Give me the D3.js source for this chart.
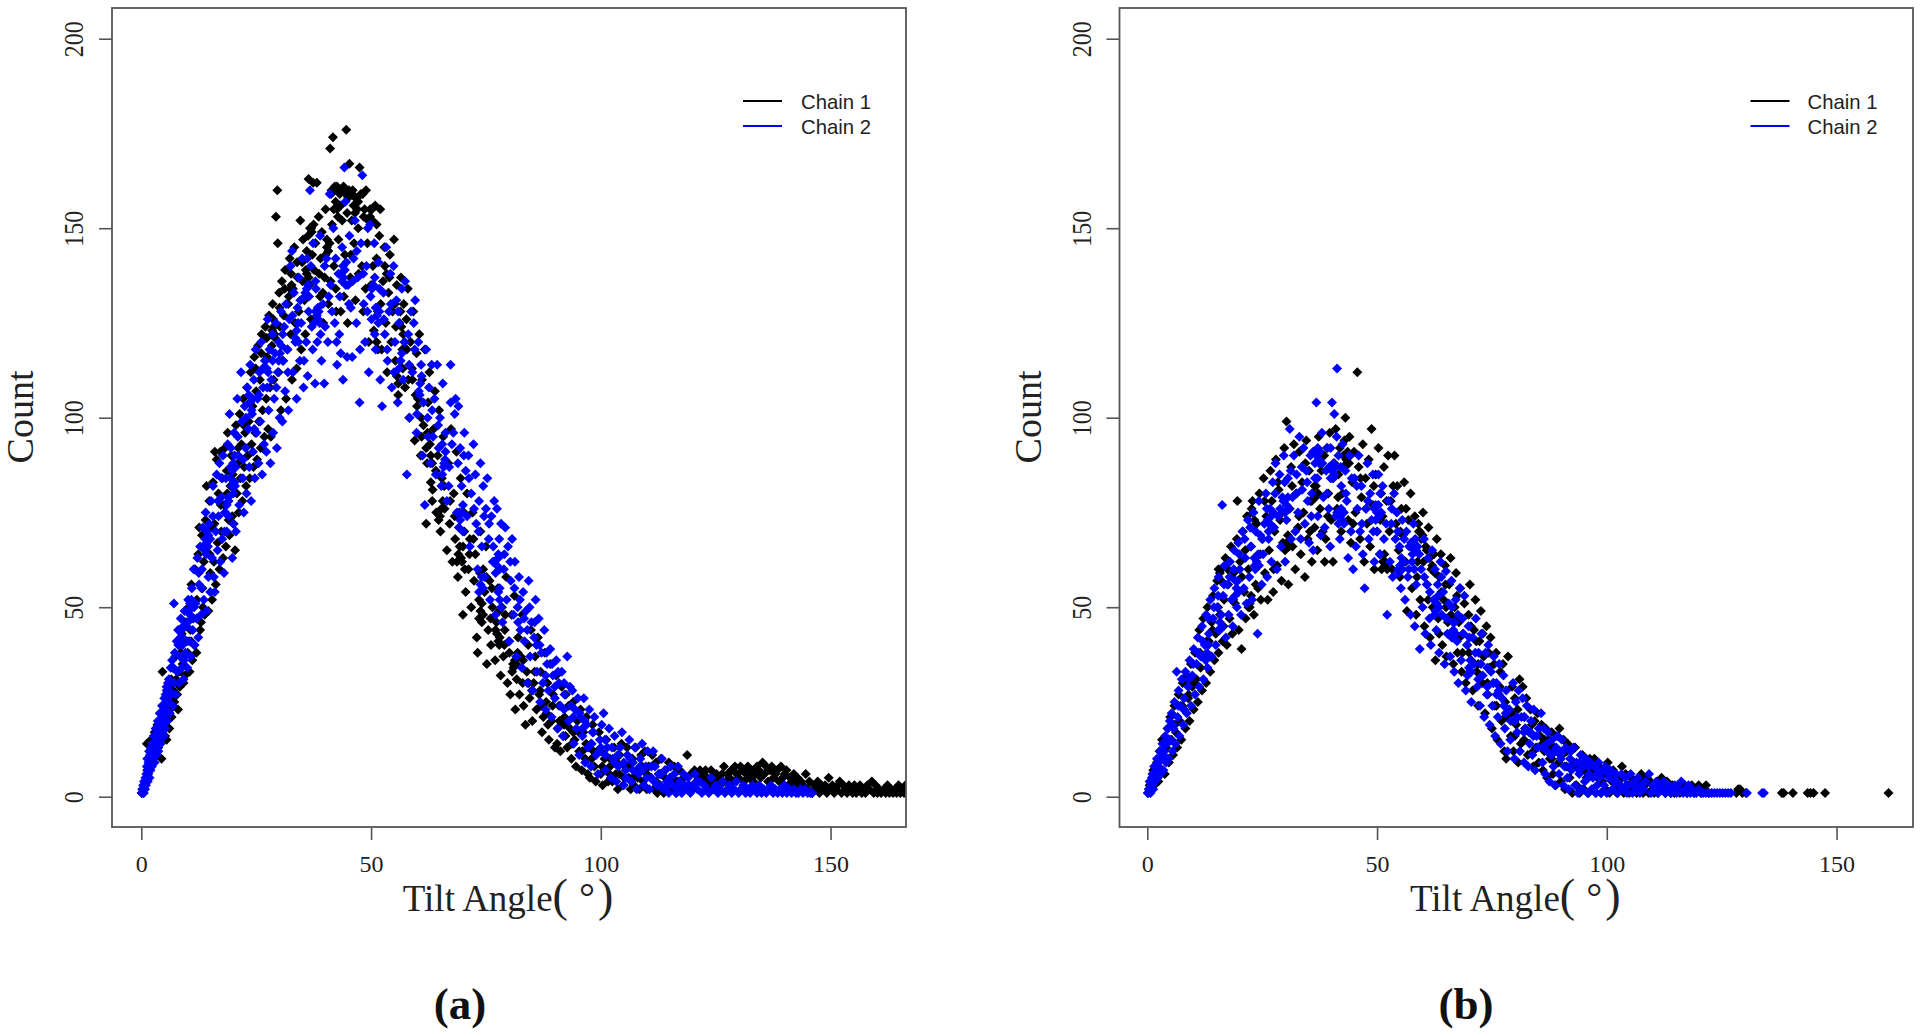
<!DOCTYPE html>
<html>
<head>
  <title></title>
  <style type="text/css">
    body { margin: 0; background: white; }
    svg { display: block; }
  </style>
</head>
<body>
  <div id="my_dataviz"></div>
</body>
<script src="https://d3js.org/d3.v7.min.js"></script>

<script type="text/javascript">

var xTicks = [0, 50, 100, 150];
var yTicks = [0, 50, 100, 150, 200];
var seriesNames = ["Chain 1", "Chain 2"];
var panelLabels = ["(a)", "(b)"];

// points, [tilt angle, count]
var chain1A = [
[0.1,1],[0.3,2],[0.5,1],[0.7,3],[0.9,4],[1.1,5],[1.2,14],[1.3,7],[1.5,6],[1.6,9],[1.8,12],[2,8],[2.1,15],[2.3,11],[2.5,10],[2.7,14],[2.9,17],[3.1,12],[3.3,16],[3.5,19],[3.7,13],[3.9,20],[4.1,15],[4.4,10],[4.6,33],[4.7,18],[4.8,24],[5,22],[5.2,16],[5.4,27],[5.5,15],[5.8,25],[6,29],[6.1,18],[6.3,23],[6.5,31],[6.6,21],[6.8,34],[7,28],[7.2,25],[7.4,37],[7.6,31],[7.8,27],[8,23],[8.1,40],[8.2,33],[8.4,29],[8.6,38],[8.8,43],[9,35],[9.2,30],[9.5,32],[9.7,46],[9.9,41],
[10.1,38],[10.3,50],[10.5,33],[10.7,44],[10.9,56],[11.1,36],[11.3,47],[11.5,40],[11.7,60],[12,38],[12.1,52],[12.4,64],[12.6,71],[12.8,44],[13,46],[13.2,69],[13.4,50],[13.6,62],[13.8,48],[14,73],[14.2,82],[14.4,66],[14.6,49],[14.8,78],[15,59],[15.2,71],[15.4,52],[15.6,83],[15.8,62],[16,91],[16.2,56],[16.4,89],[16.6,67],[16.8,80],[17,60],[17.2,91],[17.4,70],[17.6,84],[17.8,63],[18,77],[18.2,92],[18.4,66],[18.6,86],[18.8,96],[19,73],[19.2,69],[19.4,82],[19.6,90],[19.8,74],
[20.1,72],[20.4,65],[20.6,98],[20.8,80],[21,88],[21.2,75],[21.4,101],[21.6,84],[21.8,93],[22,78],[22.2,105],[22.4,87],[22.6,96],[22.8,82],[23,108],[23.2,90],[23.4,99],[23.6,84],[23.8,112],[24,93],[24.2,103],[24.4,87],[24.6,116],[24.8,96],[25,107],[25.2,89],[25.4,119],[25.6,99],[25.8,110],[26,92],[26.2,122],[26.4,102],[26.6,113],[26.8,95],[27,124],[27.2,105],[27.4,116],[27.6,97],[27.8,127],[28,108],[28.2,95],[28.4,119],[28.6,130],[28.8,110],[29,122],[29.3,153],[29.6,160],[29.7,146],[29.9,112],[30,133],[30.2,124],[30.4,102],[30.6,136],
[30.8,115],[31,127],[31.3,139],[31.5,105],[31.8,118],[32,130],[32.3,142],[32.5,122],[32.8,110],[33,134],[33.3,145],[33.5,125],[33.8,113],[34,137],[34.3,128],[34.6,152],[34.8,118],[35,141],[35.2,147],[35.5,131],[35.7,122],[36,144],[36.4,163],[36.6,135],[36.9,126],[37,150],[37.4,162],[37.6,139],[37.9,146],[38.2,162],[38.4,128],[38.6,153],[38.9,132],[39,142],[39.3,149],[39.6,125],[39.9,137],[40.1,155],[40.4,145],[40.7,130],[41.1,171],[41.3,159],[41.5,151],[41.7,174],[41.9,140],[42.1,161],[42.3,134],[42.6,155],[42.9,147],[43.1,160],[43.4,128],[43.7,152],[44,161],[44.3,143],[44.6,176],[44.9,125],[45,158],[45.3,167],[45.5,137],[45.8,152],[46,160],[46.3,146],[46.6,131],[46.9,158],[47.2,150],[47.5,166],[47.8,159],[48,140],[48.3,128],[48.6,155],[48.9,160],[49.2,146],[49.5,120],[49.8,155],[50,135],[50.3,152],[50.6,123],[50.9,156],[51.2,142],[51.5,128],[51.8,148],[52,155],[52.3,118],[52.6,136],[52.9,145],[53.2,125],[53.5,112],[53.8,133],[54.1,143],[54.4,120],[54.7,128],[55,147],[55.3,115],[55.6,135],[55.9,106],[56.2,125],[56.5,137],[56.8,118],[57.1,130],[57.4,108],[57.7,126],[58,134],[58.3,100],[58.6,120],[58.9,113],[59.2,128],[59.5,94],
[59.9,117],[60.2,105],[60.5,122],[60.8,90],[61.1,110],[61.4,98],[61.7,118],[62,72],[62.2,88],[62.4,104],[62.7,112],[63,83],[63.3,78],[63.4,81],[63.6,97],[63.9,107],[64.2,75],[64.5,90],[64.8,102],[65.1,70],[65.4,84],[65.7,95],[66,76],[66.5,65],[66.8,88],[67.1,72],[67.4,97],[67.7,62],[68,80],[68.3,68],[68.6,91],[68.9,58],[69.2,75],[69.5,84],[69.8,62],[70,48],[70.3,70],[70.6,54],[70.9,80],[71.2,60],[71.5,68],[71.8,50],[72.1,75],[72.4,57],[72.7,64],[73,42],[73.2,38],[73.5,52],[73.8,70],[74.1,46],[74.4,60],[74.7,54],[75,66],[75.2,35],[75.5,44],[75.8,57],[76.1,40],[76.4,50],[76.7,62],[77,36],[77.3,46],[77.6,55],[77.9,40],[78.2,32],[78.5,50],[78.8,37],[79.1,44],[79.4,58],[79.7,30],[80,41],[80.3,27],[80.6,48],[80.9,35],[81.2,53],[81.4,23],[81.7,31],[82,42],[82.3,27],[82.6,37],[82.9,48],[83.2,24],[83.6,19],[83.9,33],[84.2,40],[84.5,26],[84.8,44],[85.1,20],[85.4,30],[85.7,37],[86,23],[86.3,42],[86.6,27],[86.9,33],[87.2,17],[87.5,21],[87.8,38],[88.1,25],[88.4,30],[88.7,15],[89,35],[89.3,20],[89.6,27],[90,13],[90.3,32],[90.6,18],[90.9,24],[91.2,12],[91.5,29],[91.8,16],[92.1,21],[92.4,27],[92.7,13],[93,24],[93.3,18],[93.6,10],[94,25],[94.3,15],[94.6,8],[94.9,20],[95.3,12],[95.6,23],[95.9,7],[96.2,17],[96.6,10],[96.9,21],[97.2,6],[97.6,5],[97.9,14],[98.2,19],[98.6,8],[98.9,4],[99.2,12],[99.6,17],[100,6],
[100.4,3],[100.8,10],[101.2,15],[101.6,4],[102,8],[102.5,4],[102.9,13],[103.3,6],[103.7,2],[104.1,11],[104.5,14],[104.9,3],[105.3,8],[105.7,13],[106.1,5],[106.5,2],[106.9,10],[107.2,3],[107.6,13],[108,7],[108.4,2],[108.8,11],[109.2,4],[109.6,12],[110,2],[110.4,8],[110.8,5],[111.2,11],[111.6,2],[112,9],[112.3,1],[112.7,6],[113.1,10],[113.7,1],[114,7],[114.4,3],[114.8,9],[115.2,2],[115.6,5],[116,8],[116.4,1],[116.8,4],[117.2,7],[117.6,2],[118,5],
[118.8,11],[119.2,3],[119.6,6],[120,2],[120.4,7],[120.8,4],[121.2,5],[121.6,7],[122,6],[122.4,4],[122.8,7],[123.2,5],[123.6,3],[124,7],[124.4,5],[124.8,4],[125.2,6],[125.6,5],[126,3],[126.4,6],[126.8,8],[127.2,4],[127.6,6],[128,5],[128.4,7],[128.8,4],[129.2,8],[129.6,6],[130,5],[130.4,8],[130.8,7],[131.2,4],[131.6,6],[132,8],[132.4,5],[132.8,7],[133.2,4],[133.6,6],[134,8],[134.4,7],[134.8,5],[135.2,9],[135.6,6],[136,8],[136.4,4],[136.8,7],[137.2,8],[137.6,5],[138,6],[138.4,7],[138.8,4],[139.2,8],[139.6,5],[140,6],[140.4,7],[140.8,3],[141.2,5],[141.6,4],[142,6],[142.4,3],[142.8,5],[143.2,2],[143.6,4],[144,3],[144.6,6],[145,2],[145.4,4],[146,1],[146.4,3],[146.8,2],[147.2,4],[147.6,1],[148,3],[148.4,2],[148.8,3],[149.2,1],[149.6,5],[150,2],[150.4,3],[150.8,1],[151.2,2],[151.6,3],[152,4],[152.4,1],[152.8,3],[153.2,2],[153.6,1],[154,3],[154.4,2],[154.8,1],[155.2,3],[155.6,1],[156,2],[156.4,3],[156.8,1],[157.2,2],[157.6,1],[158,3],[158.4,2],[159,4],[159.4,1],[159.8,3],[160.2,1],[160.6,2],[161,1],[161.6,2],[162,1],[162.4,3],[162.8,1],[163.2,2],[163.6,1],[164,2],[164.4,1],[164.8,3],[165.2,1],[165.6,2],[166,1],[166.3,3],
// denser clumps on the peak and the falling side
[36.7,150],[37.1,149],[36.3,148],[37.5,151],[40.4,147],[40.7,144],[40.1,143],[41,146],[36,138],[36.4,137],[35.8,139],[32.4,134],[32.7,135],[32.1,132],[28.8,124],[29.1,121],[28.5,123],[41.4,160],[42,160],[42.6,161],[43.2,159],[43.8,160],[44.5,159],[45.2,160],[45.9,159],[46.6,158],[47.2,157],[48.2,159],[46.2,156],[46.5,154],[47,155],[49.8,153],[50.2,155],[49.4,152],[41.9,155],[42.3,157],[42.8,153],[43.4,156],[44.8,154],[48.4,153],[51.2,151],[57,122],[57.3,120],[56.6,124],[51.2,120],[51.5,118],[55.6,111],[55.9,109],[53,140],[54,137],[55.2,130],[56.4,128],[57.8,118],[59,110],[60,103],[61,95],[62,92],[63,90],[63.3,88],[62.8,93],[65,74],[65.3,76],[64.7,73],[65.6,78],[69,64],[69.3,66],[68.7,62],[69.6,63],[70,66],[70.4,60],[73.8,49],[74.1,51],[73.5,47],[74.4,48],[77.4,43],[77.7,41],[77.1,44],[78,42],[81,34],[81.3,36],[80.7,33],[81.6,35],[76,47],[79,40],[83,30],[85,28],[87,24],[88.5,19],[90.5,14],[92,19],[94,17],[96,12],[98,10],[100,12],[102,10],[104,6],[106,8],[108,5],[110,6],[112,4],[114,5],[116,3],
[6.9,26],[7.9,30],[9.4,37],[10.8,41],[12.2,47],[13.3,55],[14.9,64],[15.9,72],[17.3,77],[18.7,80],[19.9,85],[21.1,92],[22.3,98],[23.7,104],[24.9,113],[26.1,117],[27.3,121],[28.7,126],[30.1,129],[31.2,134],[32.6,138],[33.9,141],[35.1,136],[37.2,143],[38.7,138],[39.5,133],[41.2,136],[42.4,128],[44.1,132],[45.6,143],[47.3,138],[48.8,134],[50.4,140],[52.1,130],[53.4,138],[55.4,124],[56.9,113],[58.1,110],[59.7,106],[60.9,100],[62.3,96],[64.1,86],[65.9,82],[67.2,78],[68.2,74],[70.2,75],[71.4,64],[72.3,68],[73.7,59],[75.1,58],[76.3,55],[77.8,49],[79.2,48],[80.1,38],[81.9,38],[83.1,36],[84.3,30],[85.6,33],[86.8,28],[88.2,22],[89.5,24],[91,20],[92.3,16],[93.7,14],[95.2,17],[96.8,14],[98.4,12],[100.3,8],[101.9,6],[103.5,9],[105.1,5],[107,5],[109,8]
];

var chain2A = [
[0.1,1],[0.2,2],[0.4,3],[0.5,1],[0.6,4],[0.8,2],[0.9,5],[1,3],[1.1,6],[1.2,8],[1.4,4],[1.5,7],[1.6,9],[1.8,5],[1.9,10],[2,7],[2.2,12],[2.3,8],[2.4,14],[2.6,10],[2.7,16],[2.9,9],[3,13],[3.1,18],[3.3,11],[3.4,15],[3.6,20],[3.7,12],[3.9,17],[4,22],[4.2,14],[4.4,19],[4.5,24],[4.7,16],[4.8,21],[5,26],[5.2,18],[5.4,23],[5.5,28],[5.7,20],[5.9,25],[6,31],[6.2,22],[6.4,34],[6.5,27],[6.7,36],[6.9,24],[7.1,51],[7.2,30],[7.3,38],[7.5,27],[7.7,41],[7.8,33],[8,44],[8.2,30],[8.4,37],[8.6,47],[8.8,34],[9,42],[9.2,31],[9.4,49],[9.6,38],[9.8,45],[10,34],
[10.2,52],[10.4,41],[10.6,48],[10.8,37],[11,55],[11.2,44],[11.4,60],[11.6,40],[11.8,51],[12,47],[12.2,63],[12.4,42],[12.6,56],[12.8,66],[13,48],[13.2,60],[13.4,71],[13.6,52],[13.8,65],[14,75],[14.2,49],[14.4,68],[14.6,58],[14.8,72],[15,54],[15.2,78],[15.4,63],[15.6,82],[15.8,58],[16,54],[16.2,70],[16.4,85],[16.6,65],[16.8,74],[17,88],[17.2,62],[17.4,79],[17.6,68],[17.8,90],[18,59],[18.2,75],[18.4,84],[18.6,70],[18.8,93],[19,78],[19.2,101],[19.4,87],[19.8,63],[20,72],
[20.2,96],[20.4,82],[20.6,70],[20.9,105],[21.1,90],[21.3,77],[21.7,112],[21.9,99],[22.1,84],[22.3,75],[22.5,103],[22.7,92],[22.9,80],[23.1,108],[23.3,97],[23.5,87],[23.7,114],[23.9,78],[24.1,101],[24.3,91],[24.5,110],[24.7,84],[24.9,118],[25.1,96],[25.3,105],[25.5,88],[25.7,112],[25.9,99],[26.1,120],[26.3,85],[26.5,108],[26.7,93],[26.9,115],[27.2,91],[27.5,126],[27.7,102],[27.9,118],[28.1,88],[28.3,110],[28.5,122],[28.7,96],[28.9,105],[29.1,117],[29.3,125],[29.5,92],[29.7,112],[29.9,120],[30.1,100],[30.4,128],[30.7,99],[30.9,115],[31.1,124],[31.3,107],[31.5,130],[31.8,118],[32,102],[32.2,126],[32.5,140],[32.8,144],[33,112],[33.2,133],[33.5,120],[33.8,105],[34,129],[34.3,137],[34.5,115],[34.8,125],[35,142],[35.3,108],[35.6,132],[35.9,120],[36.2,111],[36.4,128],[36.7,160],[36.9,140],[37.1,124],[37.4,146],[37.8,109],[38,134],[38.3,120],[38.6,128],[38.9,148],[39.2,115],[39.5,130],[39.8,109],[40,124],[40.3,142],[40.6,120],[41,159],[41.2,135],[41.5,128],[41.8,150],[42.1,125],[42.6,114],[42.9,138],[43.1,122],[43.4,117],[43.7,145],[43.9,110],[44.2,166],[44.4,157],[44.8,116],[45,135],[45.3,148],[45.6,129],[45.9,116],[46.2,142],[46.5,152],[46.8,125],[47.1,137],[47.5,104],[47.8,146],[48.1,164],[48.4,130],[48.7,120],[49,140],[49.3,150],[49.5,112],[49.8,151],[50.1,126],[50.4,135],[50.7,146],[51,118],[51.3,129],[51.6,141],[52,110],[52.4,103],[52.7,133],[53,122],[53.3,145],[53.6,115],[53.9,128],[54.2,138],[54.5,108],[54.9,140],[55.2,120],[55.5,131],[55.8,104],[56.1,125],[56.4,115],[56.7,134],[57,110],[57.4,136],[57.8,85],[58.1,122],[58.4,100],[58.7,128],[59,112],[59.3,125],[59.6,131],[59.9,96],[60.3,120],[60.6,106],[60.9,114],[61.2,90],[61.7,77],[62,118],[62.3,100],[62.6,108],[62.9,88],[63.2,114],[63.5,95],[63.8,105],[64.1,85],[64.4,114],[64.7,92],[65,100],[65.3,82],[65.6,109],[65.9,88],[66.2,96],[66.5,78],[67.3,114],[67.3,104],[67,87],[67.6,93],
[68.2,101],[68.4,105],[68.7,75],[69,103],[69.4,92],[69.7,82],[70,70],[70.3,96],[70.6,86],[70.9,74],[71.2,90],[71.5,66],[71.8,80],[72.3,93],[72.7,85],[72.9,72],[73.2,60],[73.5,78],[73.8,88],[74.1,66],[74.4,82],[74.7,58],[75,76],[75.3,84],[75.6,68],[75.9,52],[76.2,74],[76.5,62],[76.8,78],[77.1,48],[77.4,76],[77.7,64],[78,55],[78.3,72],[78.6,46],[78.9,60],[79.2,71],[79.5,52],[79.8,66],[80.1,41],[80.4,57],[80.7,68],[81,48],[81.3,62],[81.6,37],[81.9,50],[82.2,58],[82.5,44],[82.8,34],[83.1,54],[83.4,41],[83.7,49],[84,30],[84.3,57],[84.6,37],[84.9,46],[85.2,28],[85.5,42],[85.8,52],[86.1,33],[86.5,47],[86.8,25],[87.1,38],[87.4,30],[87.7,44],[88,23],[88.3,35],[88.6,28],[89,39],[89.3,21],[89.6,32],[90,26],[90.3,36],[90.6,18],[90.9,30],[91.2,24],[91.5,33],[91.8,16],[92.1,27],[92.7,37],[93,20],[93.3,29],[93.8,28],[94.1,14],[94.4,23],[94.7,18],[95,26],[95.3,11],[95.6,21],[96,16],[96.3,26],[96.6,9],[96.9,19],[97.2,13],[97.5,23],[97.9,8],[98.2,17],[98.6,21],[99,11],[99.4,6],[99.8,15],
[100.2,19],[100.6,22],[101,7],[101.4,13],[101.8,18],[102.2,5],[102.6,10],[103,16],[103.4,4],[103.8,8],[104.2,13],[104.6,17],[105,3],[105.4,7],[105.8,11],[106.2,15],[106.6,4],[107,9],[107.4,13],[107.8,2],[108.2,6],[108.6,10],[109,14],[109.4,3],[109.8,8],[110.2,12],[110.6,2],[111,5],[111.4,12],[111.8,8],[112.2,3],[112.6,6],[113.3,10],[113.6,2],[114,7],[114.4,4],[114.8,1],[115.2,8],[115.6,3],[116,6],[116.4,1],[116.8,8],[117.2,4],[117.6,1],[118,6],[118.5,2],[119,5],[119.5,1],[120,3],[120.5,6],[121,2],[121.5,4],[122,1],[122.5,3],[123,2],[123.5,1],[124,5],[124.5,2],[125,3],[125.5,1],[126,2],[126.5,4],[127,1],[127.5,2],[128,3],[128.5,1],[129,2],[129.5,4],[130,1],[130.5,2],[131,3],[131.5,1],[132,2],[132.5,1],[133,3],[133.5,2],[134,1],[134.5,3],[135,1],[135.5,2],[136,1],[136.5,2],[137,3],[137.5,1],[138,2],[138.5,1],[139,2],[139.5,1],[140,3],[140.5,1],[141,2],[141.5,1],[142,2],[142.5,1],[143,1],[143.5,2],[144,1],[144.5,2],[145,1],[145.6,1],[146,1],
// denser clumps along the band
[1.9,11],[2.1,13],[1.7,12],[2.5,13],[4.8,18],[5,16],[4.5,17],[5.2,20],[5.5,29],[5.8,30],[5.3,27],[6.1,28],[8.8,44],[9.1,45],[8.5,42],[9,40],[10.6,51],[10.9,52],[10.3,49],[11,47],[14.2,67],[14.5,66],[13.9,68],[14.1,64],[14.6,69],[13.7,66],[14.3,70],[18.6,77],[18.9,79],[18.3,75],[19,74],[19.7,82],[20,80],[19.4,84],[20.3,83],[20,88],[20.3,90],[19.7,86],[20.6,87],[23.7,104],[24,102],[23.4,106],[24.2,105],[27.3,113],[27.6,112],[27,115],[30.2,117],[30.5,119],[29.9,115],[33.8,123],[34.1,125],[33.5,121],[34.2,120],[38.2,127],[38.5,126],[37.9,128],[38.8,125],[38.4,129],[37.6,125],[36,134],[36.3,135],[35.7,133],[36.5,132],[44,137],[44.3,139],[43.7,136],[44.5,135],[43.9,140],[44.6,141],[43.4,138],[51.3,127],[51.6,125],[51,129],[51.8,128],[50.5,135],[50.8,137],[50.2,134],[49.9,132],[56.4,115],[56.7,117],[56.1,113],[60.7,109],[61,111],[60.4,107],[65.8,87],[66.1,89],[65.5,85],[66.2,91],[69.4,73],[69.7,75],[69.1,71],[70,77],[77.4,61],[77.7,63],[77.1,59],[78,60],[73.8,56],[74.1,58],[73.5,54],[74.4,55],[78,52],[78.3,50],[77.7,54],[82,46],[84,44],[86,40],[88,32],[90,29],[92,23],[94,21],[96,18],[98,14],[100,13],[101,11],[103,9],[105,9],[107,7],[109,7],[111,8],[113,6],[115,5],[117,3],[119,3],[121,4],
[1.3,10],[2.8,14],[3.8,19],[4.9,23],[6.3,30],[7,34],[8.1,40],[9.3,36],[10.1,46],[11.5,50],[12.5,59],[13.1,55],[15,68],[15.6,74],[16.7,78],[17.5,84],[18.1,70],[19.5,92],[21,95],[22.2,89],[22.8,100],[24.6,97],[25.6,106],[26.4,113],[27.4,108],[28.6,115],[29.4,108],[30.8,122],[31.9,112],[32.9,127],[34.6,131],[35.4,115],[36.1,142],[37.3,118],[37.9,136],[39,122],[39.9,140],[40.8,132],[42.3,142],[42.5,120],[43.2,132],[45.2,130],[46,136],[46.9,144],[47.6,118],[48.3,138],[49.2,128],[50.8,122],[51.8,134],[52.8,126],[53.5,118],[54.3,130],[55,112],[55.9,128],[57.3,120],[58.3,114],[59.5,118],[60,101],[61.4,104],[62.4,95],[63.3,102],[64.6,98],[65.5,93],[66.9,82],[67.9,96],[68.9,88],[70.2,90],[71.3,84],[72.4,76],[73.4,70],[74.6,74],[75.7,72],[76.6,66],[77.9,68],[79,64],[80.3,62],[81.2,55],[82.4,52],[83.3,47],[84.5,50],[85.6,46],[86.7,40],[88.2,38],[89.4,35],[90.7,33],[92,30],[93.5,24],[95.4,22],[96.5,20],[98.4,17],[99.6,12],[100.9,15],[102.4,13],[103.7,11],[105.5,5],[106.4,10],[108.5,8],[110,5],[111.6,4],[113,3],[114.6,3],[116.6,2],[118.3,3]
];

var chain1B = [
[0.2,1],[0.5,3],[0.8,2],[1.1,5],[1.3,7],[1.5,3],[1.8,6],[2.1,9],[2.4,4],[2.7,12],[3,7],[3.2,15],[3.5,10],[3.8,6],[4.1,13],[4.4,18],[4.7,9],[5,21],[5.3,15],[5.6,11],[5.9,24],[6.2,17],[6.5,13],[6.8,27],[7.1,20],[7.4,15],[7.7,30],[8,23],[8.3,18],[8.6,32],[8.9,26],[9.2,20],[9.5,35],[9.8,29],[10.1,23],[10.4,38],[10.7,31],[11,25],[11.3,44],[11.6,34],[11.9,28],[12.2,47],[12.5,37],[12.8,30],[13.1,50],[13.4,41],[13.7,33],[14,46],[14.3,53],[14.6,36],[14.9,43],[15.2,57],[15.5,38],[15.8,48],[16.1,60],[16.4,41],[16.7,52],[17,63],[17.3,40],[17.6,56],[17.9,47],[18.2,66],[18.5,43],[18.8,59],[19.1,51],[19.6,78],[19.9,44],[20.2,62],[20.5,39],[20.8,70],[21.1,54],[21.4,47],[21.7,74],[22,60],[22.3,50],[22.6,66],[22.9,78],[23.2,48],[23.5,63],[23.8,72],[24.1,55],[24.4,80],[24.7,52],[25,68],[25.3,84],[25.6,59],[25.9,74],[26.2,52],[26.5,65],[26.8,86],[27.1,78],[27.4,54],[27.7,70],[28,89],[28.3,61],[28.6,81],[28.9,73],[29.2,57],[29.5,67],[29.8,92],[30.3,99],[30.7,56],[31,76],[31.3,87],[31.6,66],[31.9,93],[32.2,60],[32.5,80],[32.8,71],[33.1,91],[33.4,64],[33.7,83],[34,75],[34.3,58],[34.6,94],[34.9,68],[35.2,86],[35.5,78],[35.8,62],[36.1,91],[36.4,71],[36.7,82],[37,65],[37.3,95],[37.6,76],[37.9,86],[38.2,70],[38.6,62],[38.8,68],[39.1,92],[39.4,80],[39.7,96],[40,73],[40.4,62],[40.7,88],[41,97],[41.3,76],[41.6,85],[41.9,92],[42.2,70],[42.5,80],[43.1,100],[43.4,88],[43.7,73],[44,95],[44.3,67],[44.6,83],[45,91],[45.3,75],[45.7,112],[46,87],[46.3,68],[46.6,79],[46.9,93],[47.2,62],[47.5,84],[47.8,72],[48.2,89],[48.5,66],[48.8,97],[49.1,77],[49.4,60],[49.7,85],[50,70],[50.3,92],[50.6,64],[50.9,80],[51.2,74],[51.5,87],[51.8,62],[52.4,90],[52.7,70],[53,78],[53.3,60],[53.8,90],[54.1,72],[54.4,82],[54.7,65],[55,58],[55.3,76],[55.6,69],[55.9,83],[56.2,62],[56.5,49],[56.8,73],[57.3,80],[57.6,55],[57.9,67],[58.2,74],[58.5,48],[58.8,62],[59.1,70],[59.4,52],[60,75],[60.3,45],[60.6,66],[60.9,56],[61.2,71],[61.5,42],[61.8,60],[62.1,50],[62.7,36],[63,68],[63.3,47],[63.6,58],[63.9,64],[64.2,40],[64.5,52],[64.8,61],[65.1,37],[65.4,46],[65.7,56],[66,63],[66.3,42],[66.6,35],[66.9,50],[67.2,59],[67.5,38],[67.8,46],[68.1,55],[68.4,33],[68.7,43],[69,51],[69.3,30],[69.6,40],[69.9,48],[70.2,56],[70.5,36],[70.8,28],[71.1,44],[71.4,52],[71.7,33],[72,24],[72.3,41],[72.6,49],[72.9,30],[73.2,37],[73.5,22],[73.8,45],[74.1,27],[74.4,34],[74.7,42],[75,18],[75.3,30],[75.6,24],[75.9,38],[76.2,15],[76.5,27],[76.8,33],[77.1,20],[77.4,35],[77.7,12],[78.1,10],[78.5,37],[78.8,23],[79.1,16],[79.4,29],[79.7,12],[80,26],[80.3,19],[80.7,9],[81,31],[81.3,14],[81.7,29],[82,21],[82.5,26],[82.8,11],[83.1,17],[83.4,23],[84,8],[84.3,20],[84.6,13],[84.9,22],[85.2,9],[85.5,16],[85.8,19],[86.1,7],[86.4,12],[86.7,18],[87,5],[87.3,15],[87.6,10],[88,17],[88.3,6],[88.6,13],[88.9,3],[89.2,16],[89.7,18],[90,4],[90.3,11],[90.6,15],[90.9,2],[91.2,8],[91.5,14],[91.9,5],[92.2,12],[92.5,1],[92.8,9],[93.1,13],[93.4,3],[94.1,1],[94.4,7],[94.7,11],[95,2],[95.3,9],[95.6,5],[96,1],[96.3,10],[96.6,7],[97,2],[97.3,10],[97.6,1],[98,5],[98.3,8],[98.7,1],[99,4],[99.4,7],[99.8,2],[100.2,9],[100.6,1],[101,5],[101.4,7],[101.8,2],[102.2,1],[102.6,4],[103.3,8],[103.7,1],[104.1,6],[104.5,3],[104.9,1],[105.3,5],[105.7,2],[106.1,4],[106.5,1],[106.9,3],[107.5,6],[107.9,1],[108.3,3],[108.7,5],[109.1,1],[109.5,4],[109.9,2],[110.3,1],[110.7,3],[111.1,1],[111.9,5],[112.3,2],[112.7,1],[113.1,4],[113.5,2],[113.9,1],[114.3,3],[114.7,1],[115.1,2],[115.5,3],[115.9,1],[116.5,2],[117,3],[117.5,1],[118,2],[118.5,3],[119,1],[119.5,2],[120,3],[120.5,1],[121,2],[121.6,3],[122.2,1],[128.2,1],[128.6,2],[129,2],[129.5,1],[130.3,1],[138.1,1],[138.5,1],[140.5,1],[143.7,1],[144.3,1],[145,1],[147.5,1],[161.3,1],
// denser clumps
[43.3,89],[43.6,91],[43,87],[43.9,88],[44.2,90],[42.7,90],[36.1,80],[36.4,82],[35.8,78],[36.6,79],[30.3,67],[30.6,69],[30,65],[30.8,66],[23,75],[23.3,73],[22.7,76],[15.8,59],[16.1,57],[15.5,60],[59.3,70],[59.6,68],[59,72],[59.9,69],[51.3,62],[51.6,64],[51,60],[51.8,61],[52.2,60],[22.3,51],[22.6,53],[22,50],[60.8,65],[61.4,63],[62,61],[62.6,59],[64,54],[65,50],[67,47],[68,42],[70,38],[72,35],[74,30],[76,24],[78,21],[80,16],[82,15],[84,12],[86,14],[88,10],
[6,19],[7.6,24],[9,27],[10.2,30],[11.5,38],[12.9,41],[14.2,44],[15.4,50],[16.6,45],[17.5,60],[18.7,52],[19.5,68],[20.6,58],[21.3,65],[22.5,71],[23.6,56],[24.6,64],[25.5,78],[26.6,72],[27.5,60],[28.4,83],[29.4,75],[31.5,82],[33,74],[34.4,88],[35.4,70],[37.2,80],[38.5,90],[39.3,74],[40.3,84],[41.5,79],[42.9,94],[44.8,72],[46.4,84],[47.6,76],[49.3,82],[50.7,73],[52.1,78],[53.5,82],[55.1,70],[56.3,76],[57.4,66],[58.7,58],[60.1,62],[61.1,52],[62.4,64],[63.5,43],[64.9,56],[66.1,48],[67.4,53],[68.6,38],[70.4,45],[71.6,41],[73,43],[74.3,38],[75.5,35],[76.7,29],[77.9,25],[79.3,22],[80.6,23],[82.2,18],[83.7,19],[85.3,18],[86.5,15],[88.1,13],[89.5,9],[91.3,12],[93,8],[95.1,7],[97.1,6],[99.1,6],[101.1,4],[103,5],[105,3],[107.7,4],[110.1,2]
];

var chain2B = [
[0.1,1],[0.3,2],[0.5,4],[0.7,1],[0.9,3],[1.1,6],[1.3,2],[1.5,8],[1.7,4],[1.9,6],[2.1,10],[2.3,5],[2.5,8],[2.7,12],[2.9,6],[3.1,10],[3.3,14],[3.5,7],[3.7,12],[3.9,16],[4.1,9],[4.3,14],[4.5,18],[4.7,10],[4.9,20],[5.1,15],[5.3,22],[5.5,12],[5.7,18],[5.9,25],[6.1,14],[6.4,33],[6.6,21],[6.8,28],[7,16],[7.2,24],[7.5,31],[7.8,19],[8,26],[8.3,33],[8.6,22],[8.9,29],[9.2,36],[9.5,24],[9.8,32],[10.1,39],[10.4,27],[10.7,35],[11,42],[11.3,29],[11.6,37],[11.9,45],[12.2,31],[12.5,40],[12.8,48],[13.1,34],[13.4,43],[13.7,52],[14,37],[14.3,47],[14.6,55],[14.9,40],[15.2,50],[15.5,58],[15.8,44],[16.3,77],[16.5,53],[16.8,61],[17.1,42],[17.4,56],[17.7,48],[18,62],[18.3,52],[18.6,45],[18.9,65],[19.2,57],[19.5,50],[19.8,67],[20.1,60],[20.4,48],[20.7,70],[21,55],[21.3,63],[21.6,51],[21.9,73],[22.2,58],[22.5,66],[22.8,52],[23.1,75],[23.4,61],[24,43],[24.3,78],[24.6,69],[24.9,56],[25.2,64],[25.5,72],[25.8,80],[26.1,58],[26.4,68],[26.7,76],[27,62],[27.3,83],[27.6,71],[27.9,88],[28.2,60],[28.5,74],[28.8,85],[29.1,66],[29.4,79],[29.7,90],[30,62],[30.3,73],[30.6,84],[31,97],[31.3,68],[31.6,79],[31.9,90],[32.2,70],[32.5,85],[32.8,75],[33.1,95],[33.4,68],[33.7,81],[34,92],[34.3,72],[34.6,86],[34.9,78],[35.2,67],[35.5,90],[35.8,80],[36.1,65],[36.5,84],[36.8,104],[37.1,74],[37.4,88],[37.7,69],[38,96],[38.3,79],[38.6,71],[38.9,86],[39.2,92],[39.5,76],[39.8,66],[40.2,104],[40.5,84],[40.7,101],[41,74],[41.3,113],[41.6,90],[41.9,68],[42.2,82],[42.5,93],[42.8,72],[43.1,86],[43.4,78],[43.7,63],[44,90],[44.3,70],[44.8,60],[45.1,84],[45.4,66],[45.7,76],[46,90],[46.3,70],[46.6,82],[46.9,64],[47.3,55],[47.6,76],[47.9,88],[48.2,68],[48.5,80],[48.8,73],[49.1,85],[49.4,62],[49.7,77],[50,70],[50.3,85],[50.6,64],[50.9,75],[51.2,82],[51.5,68],[52.2,48],[52.5,78],[52.8,62],[53.1,72],[53.4,58],[53.7,80],[54,68],[54.3,75],[54.6,60],[54.9,66],[55.2,55],[55.5,73],[55.8,62],[56.1,52],[56.4,70],[56.7,58],[57,66],[57.3,48],[57.6,62],[57.9,72],[58.2,45],[58.5,56],[58.8,66],[59.3,39],[59.6,60],[59.9,50],[60.2,68],[60.5,43],[60.8,56],[61.1,63],[61.4,47],[61.7,40],[62,65],[62.3,52],[62.6,60],[62.9,44],[63.2,56],[63.5,38],[63.8,62],[64.1,48],[64.4,54],[64.7,35],[65,59.5],[65.3,43],[65.6,51],[65.9,37],[66.2,57],[66.5,46],[66.8,33],[67.1,52],[67.4,41],[67.7,30],[68,55],[68.3,36],[68.6,47],[69,53],[69.3,28],[69.6,40],[69.9,45],[70.2,33],[70.5,25],[70.8,42],[71.1,35],[71.5,47],[71.8,29],[72.1,38],[72.4,24],[72.7,43],[73,32],[73.3,21],[73.6,38],[73.9,27],[74.2,40],[74.5,19],[74.8,33],[75.1,24],[75.4,37],[75.7,16],[76,30],[76.3,21],[76.6,35],[76.9,14],[77.2,26],[77.5,32],[77.8,18],[78.1,28],[78.4,12],[78.7,23],[79,15],[79.6,30],[79.9,10],[80.2,25],[80.5,17],[80.8,28],[81.1,12],[81.4,21],[81.7,26],[82,9],[82.3,18],[82.6,24],[82.9,8],[83.2,14],[83.5,20],[83.8,11],[84.1,23],[84.4,7],[84.7,16],[85,13],[85.7,22],[86,9],[86.3,18],[86.6,6],[86.9,14],[87.2,17],[87.5,4],[87.8,11],[88.1,15],[88.4,8],[88.7,3],[89,13],[89.3,16],[89.6,6],[89.9,11],[90.2,15],[90.5,3],[90.8,8],[91.1,13],[91.4,5],[91.7,2],[92,10],[92.3,7],[92.8,13],[93.1,3],[93.4,9],[93.7,1],[94,6],[94.3,11],[94.6,2],[94.9,8],[95.2,4],[95.5,10],[95.8,1],[96.1,6],[96.4,9],[96.7,2],[97,5],[97.3,8],[97.6,1],[97.9,3],[98.2,9],[98.5,5],[98.8,1],[99.1,7],[99.4,3],[99.7,8],[100,1],[100.4,5],[100.8,7],[101.2,2],[101.6,4],[102,6],[102.4,1],[102.8,3],[103.2,6],[103.6,2],[104,5],[104.4,1],[104.8,3],[105.2,6],[105.6,1],[106,4],[106.4,2],[106.8,5],[107.2,1],[107.6,3],[108,2],[108.4,4],[109.2,6],[109.6,1],[110,3],[110.4,2],[110.8,4],[111.2,1],[111.6,3],[112,2],[112.4,4],[112.8,1],[113.2,2],[113.6,3],[114,1],[114.4,2],[114.8,3],[115.2,1],[115.6,2],[116.2,4],[116.6,1],[117,2],[117.4,1],[117.8,3],[118.2,1],[118.6,2],[119,1],[119.5,1],[120,2],[120.5,1],[121,1],[121.6,1],[122.2,1],[122.8,1],[123.4,1],[124,1],[124.6,1],[125.2,1],[125.8,1],[126.4,1],[127,1],[130.5,1],[133.8,1],[134.2,1],
// denser clumps
[26.7,72],[27,74],[26.4,70],[27.2,71],[26.2,73],[27.4,75],[23.8,62],[24.1,64],[23.5,60],[24.3,61],[23.3,63],[19.4,55],[19.7,57],[19.1,53],[19.9,54],[15.8,46],[16.1,48],[15.5,44],[16.3,45],[13,38],[13.3,40],[12.7,36],[13.5,37],[36.8,90],[37.1,92],[36.5,88],[37.3,89],[36.2,91],[37.6,91],[40.2,86],[40.5,88],[39.9,84],[40.7,85],[39.6,87],[41,87],[30.3,77],[30.6,79],[30,75],[30.8,76],[29.6,78],[41.9,74],[42.2,76],[41.6,72],[42.4,73],[41.3,75],[42.8,75],[50,75],[50.3,77],[49.7,73],[50.5,74],[49.4,76],[58,66],[58.3,68],[57.7,64],[58.5,65],[57.4,67],[55,61],[55.3,63],[54.7,59],[55.5,60],[63,51],[63.3,53],[62.7,49],[63.5,50],[66.6,44],[66.9,46],[66.3,42],[67.1,43],[70,34],[70.3,36],[69.7,32],[70.5,33],[72,31],[74,29],[76,27],[78,22],[80,20],[82,17],[84,16],[86,13],[88,11],[90,10],[92,8],[94,7],[96,5],[98,6],
[1,5],[2.4,9],[3.6,11],[4.6,15],[5.6,19],[6.7,24],[7.9,23],[9,31],[10,35],[11.1,38],[12.1,41],[13.3,47],[14.5,50],[15.4,53],[16.7,56],[17.9,58],[18.8,60],[20,64],[21.2,68],[22.4,71],[23.6,70],[25.1,68],[26,76],[27.8,80],[28.9,76],[29.9,83],[31.2,86],[32.4,80],[33.6,87],[34.8,83],[35.7,74],[37,84],[38.1,88],[39.1,80],[39.9,92],[41.2,95],[42.1,87],[43.2,80],[44.5,84],[45.6,82],[46.7,72],[48,78],[49.2,70],[50.7,80],[52,72],[53.2,76],[54.5,70],[55.9,68],[56.9,60],[58.1,60],[59.2,64],[60.3,58],[61.5,54],[62.5,48],[64,58],[65.1,47],[66.3,50],[67.6,48],[68.8,43],[70.1,42],[71.4,38],[72.6,35],[74,34],[75.3,30],[76.5,28],[77.6,24],[79.1,20],[80.4,21],[82.1,21],[83.4,17],[85.2,18],[87,12],[88.6,12],[90.3,12],[92.1,12],[94.1,9],[96,8],[98,7],[100.2,6],[102.2,4],[104.2,3],[106.2,3]
];

// same frame for both panels, only the left edge and the data change
var height = 1035, width = 1920;
var top_ = 8, bottom = 827;

var svg = d3.select("#my_dataviz")
  .append("svg")
    .attr("width", width)
    .attr("height", height);

var panels = [
  {left: 112, right: 906, x0: 141.3, chain1: chain1A, chain2: chain2A, label: panelLabels[0], id: "a", labelX: 460, legendX: 689},
  {left: 1119.5, right: 1913, x0: 1147.3, chain1: chain1B, chain2: chain2B, label: panelLabels[1], id: "b", labelX: 1466, legendX: 688}
];

panels.forEach(function(p) {

  var w = p.right - p.left, h = bottom - top_;

  var x = d3.scaleLinear()
    .domain([(p.left - p.x0) / 4.595, (p.right - p.x0) / 4.595])
    .range([0, w]);

  var y = d3.scaleLinear()
    .domain([-7.99, 208.1])
    .range([h, 0]);

  var g = svg.append("g")
    .attr("transform", "translate(" + p.left + "," + top_ + ")");

  g.append("clipPath")
    .attr("id", "clip-" + p.id)
    .append("rect")
      .attr("width", w)
      .attr("height", h);

  // Add X axis
  var xAxis = g.append("g")
    .attr("transform", "translate(0," + h + ")")
    .call(d3.axisBottom(x).tickValues(xTicks).tickSize(13).tickPadding(15));
  xAxis.select(".domain").remove();
  xAxis.selectAll("line").attr("stroke", "#555").attr("stroke-width", 1.6);
  xAxis.selectAll("text")
    .attr("fill", "#222")
    .style("font-family", "'Liberation Serif'")
    .style("font-size", "24px");

  // Add Y axis, labels turned like base R does
  var yAxis = g.append("g")
    .call(d3.axisLeft(y).tickValues(yTicks).tickSize(13));
  yAxis.select(".domain").remove();
  yAxis.selectAll("line").attr("stroke", "#555").attr("stroke-width", 1.6);
  yAxis.selectAll("text")
    .attr("x", 0)
    .attr("dy", 0)
    .attr("transform", "translate(-29,0) rotate(-90) scale(1,1.15)")
    .attr("text-anchor", "middle")
    .attr("fill", "#222")
    .style("font-family", "'Liberation Serif'")
    .style("font-size", "24px");

  // Show the points, chain 2 on top
  var dots = g.append("g").attr("clip-path", "url(#clip-" + p.id + ")");
  var diamond = d3.symbol().type(d3.symbolSquare).size(50);
  [[p.chain1, "#000000"], [p.chain2, "#0000ff"]].forEach(function(s) {
    dots.selectAll(null)
      .data(s[0])
      .enter()
      .append("path")
        .attr("d", diamond)
        .attr("transform", function(d) { return "translate(" + x(d[0]) + "," + y(d[1]) + ") rotate(45)"; })
        .attr("fill", s[1]);
  });

  g.append("rect")
    .attr("width", w)
    .attr("height", h)
    .attr("fill", "none")
    .attr("stroke", "#555")
    .attr("stroke-width", 1.8);

  // legend
  ["#000000", "#0000ff"].forEach(function(c, i) {
    g.append("line")
      .attr("x1", 631).attr("x2", 670)
      .attr("y1", 93 + i * 25).attr("y2", 93 + i * 25)
      .attr("stroke", c)
      .attr("stroke-width", 2.2);
    g.append("text")
      .attr("x", p.legendX)
      .attr("y", 93 + i * 25 + 8)
      .attr("fill", "#222")
      .style("font-family", "'Liberation Sans'")
      .style("font-size", "20.3px")
      .text(seriesNames[i]);
  });

  // axis titles, the brackets are drawn taller than the words
  var title = g.append("text")
    .attr("x", w / 2 - 1)
    .attr("y", 911 - top_)
    .attr("text-anchor", "middle")
    .attr("fill", "#222")
    .style("font-family", "'Liberation Serif'")
    .style("font-size", "37px");
  title.append("tspan").text("Tilt Angle");
  title.append("tspan").style("font-size", "46px").text("(");
  title.append("tspan").style("font-size", "40px").attr("dx", 11).text("°");
  title.append("tspan").style("font-size", "46px").attr("dx", 3).text(")");

  g.append("text")
    .attr("transform", "translate(-79," + (417 - top_) + ") rotate(-90)")
    .attr("text-anchor", "middle")
    .attr("fill", "#222")
    .style("font-family", "'Liberation Serif'")
    .style("font-size", "38px")
    .text("Count");

  g.append("text")
    .attr("x", p.labelX - p.left)
    .attr("y", 1019 - top_)
    .attr("text-anchor", "middle")
    .attr("fill", "#111")
    .style("font-family", "'Liberation Serif'")
    .style("font-size", "45px")
    .style("font-weight", "bold")
    .text(p.label);
});

</script>
</html>
